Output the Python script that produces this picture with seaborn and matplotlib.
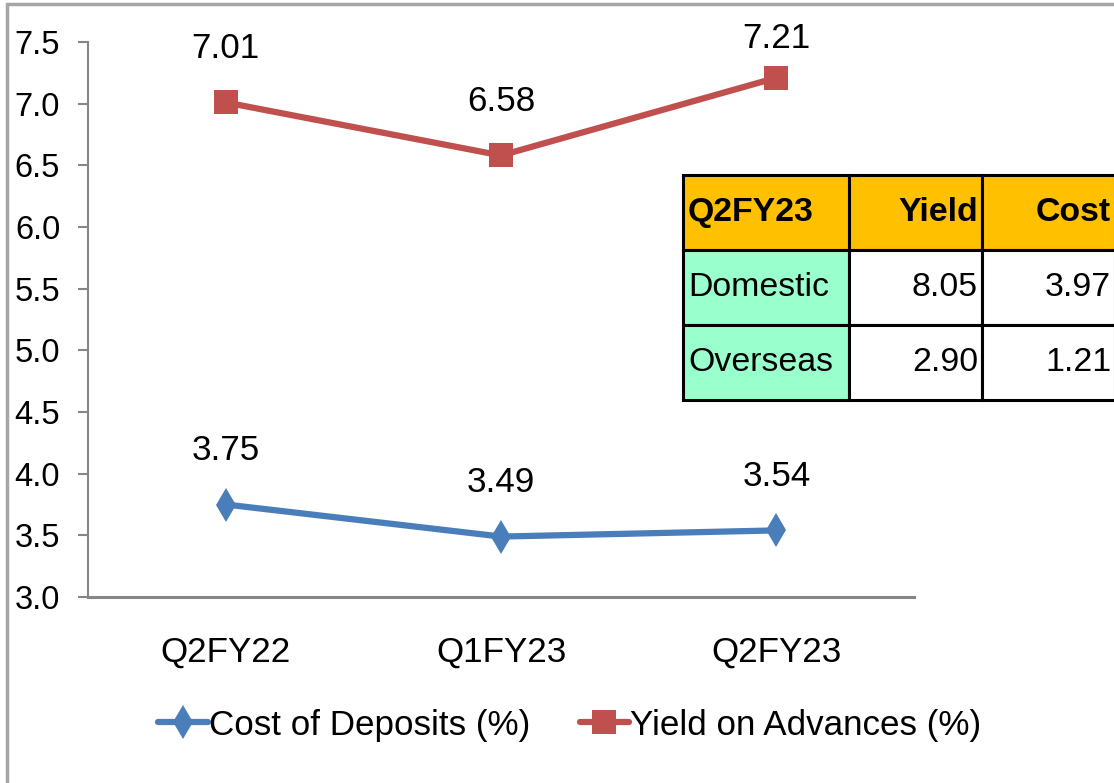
import matplotlib
matplotlib.use("Agg")
import matplotlib.pyplot as plt
from matplotlib import font_manager as fm
from matplotlib.patches import Rectangle
import seaborn as sns
import pandas as pd

quarters = ["Q2FY22", "Q1FY23", "Q2FY23"]
cost_of_deposits = [3.75, 3.49, 3.54]
yield_on_advances = [7.01, 6.58, 7.21]
series_names = ["Cost of Deposits (%)", "Yield on Advances (%)"]
yticks = [3.0, 3.5, 4.0, 4.5, 5.0, 5.5, 6.0, 6.5, 7.0, 7.5]

table_header = ["Q2FY23", "Yield", "Cost"]
table_rows = ["Domestic", "Overseas"]
table_yield = ["8.05", "2.90"]
table_cost = ["3.97", "1.21"]

sns.set_theme(style="white")

def pick_font():
    for fam in ["Liberation Sans Narrow", "Arial Narrow", "Liberation Sans"]:
        try:
            fm.findfont(fm.FontProperties(family=fam), fallback_to_default=False)
            return fam
        except Exception:
            continue
    return "DejaVu Sans"

FONT = pick_font()
narrow = "Narrow" in FONT
scale = 1.0 if narrow else 0.87
plt.rcParams["font.family"] = [FONT, "DejaVu Sans"]
plt.rcParams["text.color"] = "black"
plt.rcParams["xtick.color"] = "black"
plt.rcParams["ytick.color"] = "black"
plt.rcParams["axes.labelcolor"] = "black"

df = pd.DataFrame({
    "quarter": quarters * 2,
    "value": cost_of_deposits + yield_on_advances,
    "series": [series_names[0]] * 3 + [series_names[1]] * 3,
})

W, H = 1114, 783
fig = plt.figure(figsize=(W / 100, H / 100), dpi=100)
fig.patch.set_facecolor("white")
ax = fig.add_axes([88 / W, 1 - 597 / H, (914 - 88) / W, (597 - 42) / H])

blue, red = "#4A7EBB", "#C0504D"
sns.lineplot(data=df, x="quarter", y="value", hue="series", style="series",
             palette={series_names[0]: blue, series_names[1]: red},
             markers={series_names[0]: "d", series_names[1]: "s"},
             dashes=False, linewidth=4.5, markersize=17, markeredgewidth=0,
             sort=False, ax=ax)

handles, labels = ax.get_legend_handles_labels()
ax.get_legend().remove()

ax.set_xlim(-0.5, 2.5)
ax.set_ylim(3.0, 7.5)

# data labels, kept inside the chart area near the top (as in the source)
min_label_px_from_top = 38
for vals in (cost_of_deposits, yield_on_advances):
    for i, v in enumerate(vals):
        px = ax.transData.transform((i, v))
        y_from_top = H - px[1]
        off_px = 54
        if y_from_top - off_px < min_label_px_from_top:
            off_px = y_from_top - min_label_px_from_top
        ax.annotate(f"{v:.2f}", (i, v), xytext=(0, off_px * 0.72), textcoords="offset points",
                    ha="center", va="center", fontsize=29 * scale, color="black")

ax.set_yticks(yticks)
ax.set_yticklabels([f"{t:.1f}" for t in yticks], fontsize=27 * scale)
ax.set_xticks([-0.5, 0.5, 1.5, 2.5])
ax.set_xticklabels([])
ax.set_xticks([0, 1, 2], minor=True)
ax.set_xticklabels(quarters, minor=True, fontsize=29 * scale)
ax.tick_params(axis="x", which="major", length=10, width=1.5, color="#868686", direction="out")
ax.tick_params(axis="x", which="minor", length=0, pad=28)
ax.tick_params(axis="y", length=7, width=1.5, color="#868686", direction="out", pad=13, left=True)
ax.set_xlabel("")
ax.set_ylabel("")
for s in ["top", "right"]:
    ax.spines[s].set_visible(False)
ax.spines["left"].set_color("#868686")
ax.spines["left"].set_linewidth(1.5)
ax.spines["bottom"].set_color("#868686")
ax.spines["bottom"].set_linewidth(2.2)

fig.legend(handles, labels, loc="center", bbox_to_anchor=(570 / W, 1 - 725 / H),
           ncol=2, frameon=False, fontsize=29 * scale, handlelength=1.4,
           handletextpad=0.05, columnspacing=1.4, labelcolor="black")

# outer chart border (top and left visible)
fig.add_artist(Rectangle((7 / W, -0.1), 1.2, 1 - 4 / H + 0.1, transform=fig.transFigure,
                         fill=False, edgecolor="#A6A6A6", linewidth=2.5))

# table overlay
col_x = [683, 849, 982, 1115]
row_y = [175, 250, 325, 400]
def fx(x):
    return x / W
def fy(y):
    return 1 - y / H

for r in range(3):
    for c in range(3):
        if r == 0:
            fc = "#FFC000"
        elif c == 0:
            fc = "#99FFCC"
        else:
            fc = "white"
        fig.add_artist(Rectangle((fx(col_x[c]), fy(row_y[r + 1])),
                                 (col_x[c + 1] - col_x[c]) / W,
                                 (row_y[r + 1] - row_y[r]) / H,
                                 transform=fig.transFigure, facecolor=fc,
                                 edgecolor="black", linewidth=2.2, zorder=5))

cells = [table_header,
         [table_rows[0], table_yield[0], table_cost[0]],
         [table_rows[1], table_yield[1], table_cost[1]]]
for r, row in enumerate(cells):
    yc = fy((row_y[r] + row_y[r + 1]) / 2)
    for c, txt in enumerate(row):
        weight = "bold" if r == 0 else "normal"
        if c == 0:
            fig.text(fx(col_x[0] + 5), yc, txt, ha="left", va="center",
                     fontsize=28 * scale, fontweight=weight, zorder=6, color="black")
        else:
            fig.text(fx(col_x[c + 1] - 4), yc, txt, ha="right", va="center",
                     fontsize=28 * scale, fontweight=weight, zorder=6, color="black")

fig.savefig("out.png", dpi=100, facecolor="white")
